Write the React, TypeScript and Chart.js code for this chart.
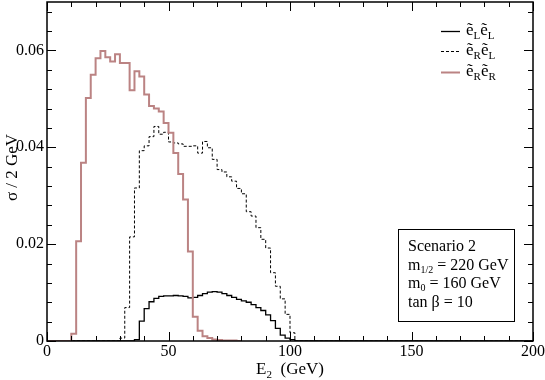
import React, { useEffect, useRef } from "react";
import { Chart, registerables } from "chart.js";

Chart.register(...registerables);

// ---- data (2 GeV bins, values are bin contents, indexed from the series' first bin edge) ----
const binWidth = 2;
const xRange = [0, 200];
const yRange = [0, 0.07];
const xTickValues = [0, 50, 100, 150, 200];
const yTickValues = [0, 0.02, 0.04, 0.06];

const seriesLabels = ["ẽLẽL", "ẽRẽL", "ẽRẽR"];

// ẽ_L ẽ_L (solid black)
const eLeLStart = 36;
const eLeL = [
  0.0003, 0.0041, 0.0067, 0.0081, 0.0088, 0.0092, 0.0093, 0.0093, 0.0094, 0.0093,
  0.0092, 0.0089, 0.0090, 0.0094, 0.0098, 0.0101, 0.0102, 0.0101, 0.0098, 0.0094,
  0.0090, 0.0086, 0.0083, 0.0080, 0.0075, 0.0069, 0.0063, 0.0054, 0.0042, 0.0026,
  0.0012, 0.0006, 0.0003,
];

// ẽ_R ẽ_L (dashed black)
const eReLStart = 30;
const eReL = [
  0.0006, 0.0069, 0.0215, 0.0316, 0.0393, 0.0403, 0.0422, 0.0443, 0.0427, 0.0431,
  0.0411, 0.0409, 0.0407, 0.0402, 0.0402, 0.0403, 0.0388, 0.0412, 0.0399, 0.0375,
  0.0354, 0.0349, 0.0339, 0.0330, 0.0315, 0.0304, 0.0267, 0.0258, 0.0234, 0.0210,
  0.0192, 0.0141, 0.0113, 0.0087, 0.0055, 0.0017,
];

// ẽ_R ẽ_R (rosy line)
const eReRStart = 10;
const eReREnd = 80;
const eReR = [
  0.0015, 0.0206, 0.0368, 0.0502, 0.0550, 0.0584, 0.0599, 0.0586, 0.0577, 0.0592,
  0.0574, 0.0574, 0.0518, 0.0557, 0.0546, 0.0509, 0.0485, 0.0480, 0.0474, 0.0450,
  0.0430, 0.0388, 0.0345, 0.0292, 0.0185, 0.0050, 0.0021, 0.0010, 0.0006, 0.0003,
  0.0002, 0.0001, 0.0001, 0.0001,
];

const boxLines = ["Scenario 2", "m|1/2| = 220 GeV", "m|0| = 160 GeV", "tan β = 10"];

const FONT = '"Liberation Serif", "Times New Roman", serif';
const RED = "#bb8383";

function steps(start: number, values: number[], from: number, to: number) {
  const pts: { x: number; y: number }[] = [];
  for (let x = from; x < to; x += binWidth) {
    const i = Math.round((x - start) / binWidth);
    pts.push({ x, y: i >= 0 && i < values.length ? values[i] : 0 });
  }
  pts.push({ x: to, y: pts[pts.length - 1].y });
  return pts;
}

type Seg = [string, boolean];

function drawRich(ctx: CanvasRenderingContext2D, x: number, y: number, segs: Seg[], size: number, subSize: number, subDrop: number) {
  ctx.textAlign = "left";
  ctx.textBaseline = "alphabetic";
  let cx = x;
  for (const [t, sub] of segs) {
    ctx.font = `${sub ? subSize : size}px ${FONT}`;
    ctx.fillText(t, cx, sub ? y + subDrop : y);
    cx += ctx.measureText(t).width;
  }
  return cx - x;
}

function richWidth(ctx: CanvasRenderingContext2D, segs: Seg[], size: number, subSize: number) {
  let w = 0;
  for (const [t, sub] of segs) {
    ctx.font = `${sub ? subSize : size}px ${FONT}`;
    w += ctx.measureText(t).width;
  }
  return w;
}

// "a|b|c" -> normal a, subscript b, normal c
function parseSub(s: string): Seg[] {
  return s
    .split("|")
    .map((p, i) => [p, i % 2 === 1] as Seg)
    .filter((s2) => s2[0].length > 0);
}

function legendSegs(label: string): Seg[] {
  // label like "ẽLẽR": tilde-e followed by a subscript letter
  return Array.from(label).map((c) => [c, c !== "ẽ"] as Seg);
}

const decorPlugin = {
  id: "decor",
  afterDatasetsDraw(chart: any) {
    const { ctx, chartArea: a, scales } = chart;
    const xs = scales.x;
    const ys = scales.y;
    ctx.save();
    ctx.strokeStyle = "#000";
    ctx.lineWidth = 1;
    ctx.beginPath();
    for (let v = xRange[0]; v <= xRange[1] + 1e-9; v += 10) {
      const px = Math.round(xs.getPixelForValue(v)) + 0.5;
      const len = v % 50 === 0 ? 9 : 5;
      ctx.moveTo(px, a.bottom);
      ctx.lineTo(px, a.bottom - len);
      ctx.moveTo(px, a.top);
      ctx.lineTo(px, a.top + len);
    }
    for (let k = 0; k * 0.004 <= yRange[1] + 1e-9; k++) {
      const v = k * 0.004;
      const py = Math.round(ys.getPixelForValue(v)) + 0.5;
      const len = k % 5 === 0 ? 9 : 5;
      ctx.moveTo(a.left, py);
      ctx.lineTo(a.left + len, py);
      ctx.moveTo(a.right, py);
      ctx.lineTo(a.right - len, py);
    }
    ctx.stroke();
    ctx.lineWidth = 1.5;
    ctx.strokeRect(a.left, a.top, a.right - a.left, a.bottom - a.top);

    // legend
    ctx.fillStyle = "#000";
    const styles = [
      { color: "#000", dash: [] as number[], width: 1.3 },
      { color: "#000", dash: [3, 2], width: 1 },
      { color: RED, dash: [] as number[], width: 2 },
    ];
    const legY = [31, 51, 72];
    seriesLabels.forEach((lab, i) => {
      const st = styles[i];
      ctx.beginPath();
      ctx.strokeStyle = st.color;
      ctx.lineWidth = st.width;
      ctx.setLineDash(st.dash);
      ctx.moveTo(a.right - 92, legY[i] + 0.5);
      ctx.lineTo(a.right - 73, legY[i] + 0.5);
      ctx.stroke();
      ctx.setLineDash([]);
      drawRich(ctx, a.right - 67, legY[i] + 4, legendSegs(lab), 17, 11, 4);
    });

    // info box
    const bx = a.right - 135;
    const by = a.bottom - 112;
    ctx.strokeStyle = "#000";
    ctx.lineWidth = 1;
    ctx.strokeRect(bx + 0.5, by + 0.5, 116, 92);
    boxLines.forEach((ln, i) => {
      drawRich(ctx, bx + 10, by + 22 + i * 18.7, parseSub(ln), 16, 10, 3);
    });

    // axis titles
    const xt: Seg[] = [["E", false], ["2", true], ["  (GeV)", false]];
    const w = richWidth(ctx, xt, 17, 11);
    drawRich(ctx, (a.left + a.right) / 2 - w / 2, 374, xt, 17, 11, 4);

    ctx.save();
    ctx.translate(17, (a.top + a.bottom) / 2 - 4);
    ctx.rotate(-Math.PI / 2);
    ctx.font = `17px ${FONT}`;
    ctx.textAlign = "center";
    ctx.textBaseline = "alphabetic";
    ctx.fillText("σ / 2 GeV", 0, 0);
    ctx.restore();

    ctx.restore();
  },
};

export default function App() {
  const ref = useRef<HTMLCanvasElement | null>(null);
  useEffect(() => {
    const canvas = ref.current;
    if (!canvas) return;
    const chart = new Chart(canvas, {
      type: "line",
      data: {
        datasets: [
          {
            label: seriesLabels[0],
            data: steps(eLeLStart, eLeL, xRange[0], xRange[1]),
            borderColor: "#000",
            borderWidth: 1.3,
            stepped: "before",
            pointRadius: 0,
            fill: false,
            order: 2,
          },
          {
            label: seriesLabels[1],
            data: steps(eReLStart, eReL, xRange[0], xRange[1]),
            borderColor: "#000",
            borderWidth: 1,
            borderDash: [3, 2],
            stepped: "before",
            pointRadius: 0,
            fill: false,
            order: 1,
          },
          {
            label: seriesLabels[2],
            data: steps(eReRStart, eReR, xRange[0], eReREnd),
            borderColor: RED,
            borderWidth: 2,
            stepped: "before",
            pointRadius: 0,
            fill: false,
            order: 0,
          },
        ],
      },
      options: {
        animation: false,
        responsive: false,
        layout: { padding: { top: 2, right: 12, left: 0, bottom: 0 } },
        plugins: { legend: { display: false }, tooltip: { enabled: false } },
        scales: {
          x: {
            type: "linear",
            min: xRange[0],
            max: xRange[1],
            afterBuildTicks: (s: any) => {
              s.ticks = xTickValues.map((v) => ({ value: v }));
            },
            afterFit: (s: any) => {
              s.height = 39;
              s.paddingLeft = 0;
              s.paddingRight = 0;
            },
            ticks: {
              autoSkip: false,
              maxRotation: 0,
              padding: 1,
              color: "#000",
              font: { family: FONT, size: 16 },
              callback: (v: any) => String(v),
            },
            grid: { display: false, drawTicks: false },
            border: { display: false },
          },
          y: {
            type: "linear",
            min: yRange[0],
            max: yRange[1],
            afterBuildTicks: (s: any) => {
              s.ticks = yTickValues.map((v) => ({ value: v }));
            },
            afterFit: (s: any) => {
              s.width = 47;
              s.paddingTop = 0;
              s.paddingBottom = 0;
            },
            ticks: {
              autoSkip: false,
              padding: 3,
              color: "#000",
              font: { family: FONT, size: 16 },
              callback: (v: any) => (Number(v) === 0 ? "0" : Number(v).toFixed(2)),
            },
            grid: { display: false, drawTicks: false },
            border: { display: false },
          },
        },
      },
      plugins: [decorPlugin],
    } as any);
    return () => chart.destroy();
  }, []);
  return (
    <div style={{ position: "absolute", left: 0, top: 0, width: 545, height: 380, background: "#fff" }}>
      <canvas ref={ref} width={545} height={380} />
    </div>
  );
}
